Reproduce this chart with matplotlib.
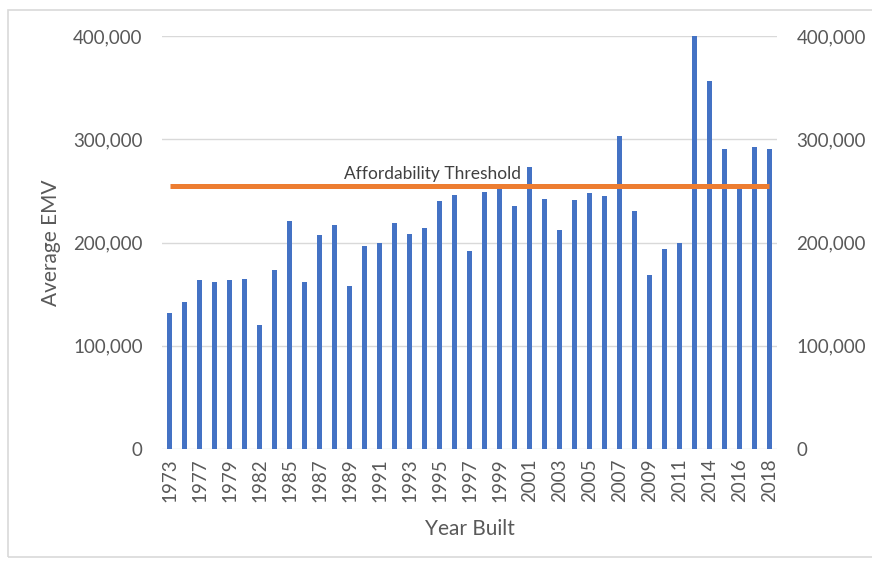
import numpy as np
import matplotlib.pyplot as plt
from matplotlib.patches import Rectangle
from matplotlib.ticker import FuncFormatter

plt.rcParams['font.family'] = ['Lato', 'DejaVu Sans']

years = [1973, 1976, 1977, 1978, 1979, 1980, 1982, 1984, 1985, 1986,
         1987, 1988, 1989, 1990, 1991, 1992, 1993, 1994, 1995, 1996,
         1997, 1998, 1999, 2000, 2001, 2002, 2003, 2004, 2005, 2006,
         2007, 2008, 2009, 2010, 2011, 2013, 2014, 2015, 2016, 2017, 2018]
avg_emv = [132000, 142500, 164000, 162000, 164000, 165000, 120000, 173000, 221000, 162000,
           207000, 217000, 158000, 196500, 200000, 219000, 208000, 214500, 240000, 246000,
           192000, 249000, 252000, 235000, 273000, 242500, 212000, 241000, 248000, 245000,
           303000, 230500, 169000, 194000, 200000, 400000, 357000, 290500, 257000, 293000, 290500]
threshold = 255000
threshold_label = 'Affordability Threshold'

gray = '#595959'
blue = '#4472C4'
orange = '#ED7D31'

fig = plt.figure(figsize=(8.72, 5.66), dpi=100)
ax = fig.add_axes([0.186, 0.207, 0.705, 0.729])
ax2 = ax.twinx()

x = np.arange(len(years))
ax.bar(x, avg_emv, width=0.32, color=blue, zorder=3)
ax2.plot(x, [threshold] * len(x), color=orange, lw=3.6, solid_capstyle='butt', zorder=4)
ax2.text(17.5, threshold + 4000, threshold_label, ha='center', va='bottom',
         fontsize=12.5, color='#404040')

for a in (ax, ax2):
    a.set_ylim(0, 400000)
    a.set_yticks(np.arange(0, 400001, 100000))
    a.yaxis.set_major_formatter(FuncFormatter(lambda v, p: f'{int(v):,}'))
    a.tick_params(axis='y', length=0, labelsize=13.5, labelcolor=gray, pad=14)
    for s in a.spines.values():
        s.set_visible(False)

ax.set_xlim(-0.5, len(x) - 0.5)
ax.set_xticks(x[::2])
ax.set_xticklabels([str(y) for y in years[::2]], rotation=90, fontsize=13.5, color=gray)
ax.tick_params(axis='x', length=0, pad=7)
ax.grid(axis='y', color='#D9D9D9', lw=1, zorder=0)
ax.set_axisbelow(True)

ax.set_ylabel('Average EMV', fontsize=15, color=gray, labelpad=9)
ax.set_xlabel('Year Built', fontsize=15, color=gray, labelpad=12)

fig.patches.append(Rectangle((8 / 872, 1 - 557 / 566), 1.0, 547 / 566,
                             transform=fig.transFigure, fill=False,
                             edgecolor='#D9D9D9', lw=1.2))

fig.savefig('out.png', dpi=100)
